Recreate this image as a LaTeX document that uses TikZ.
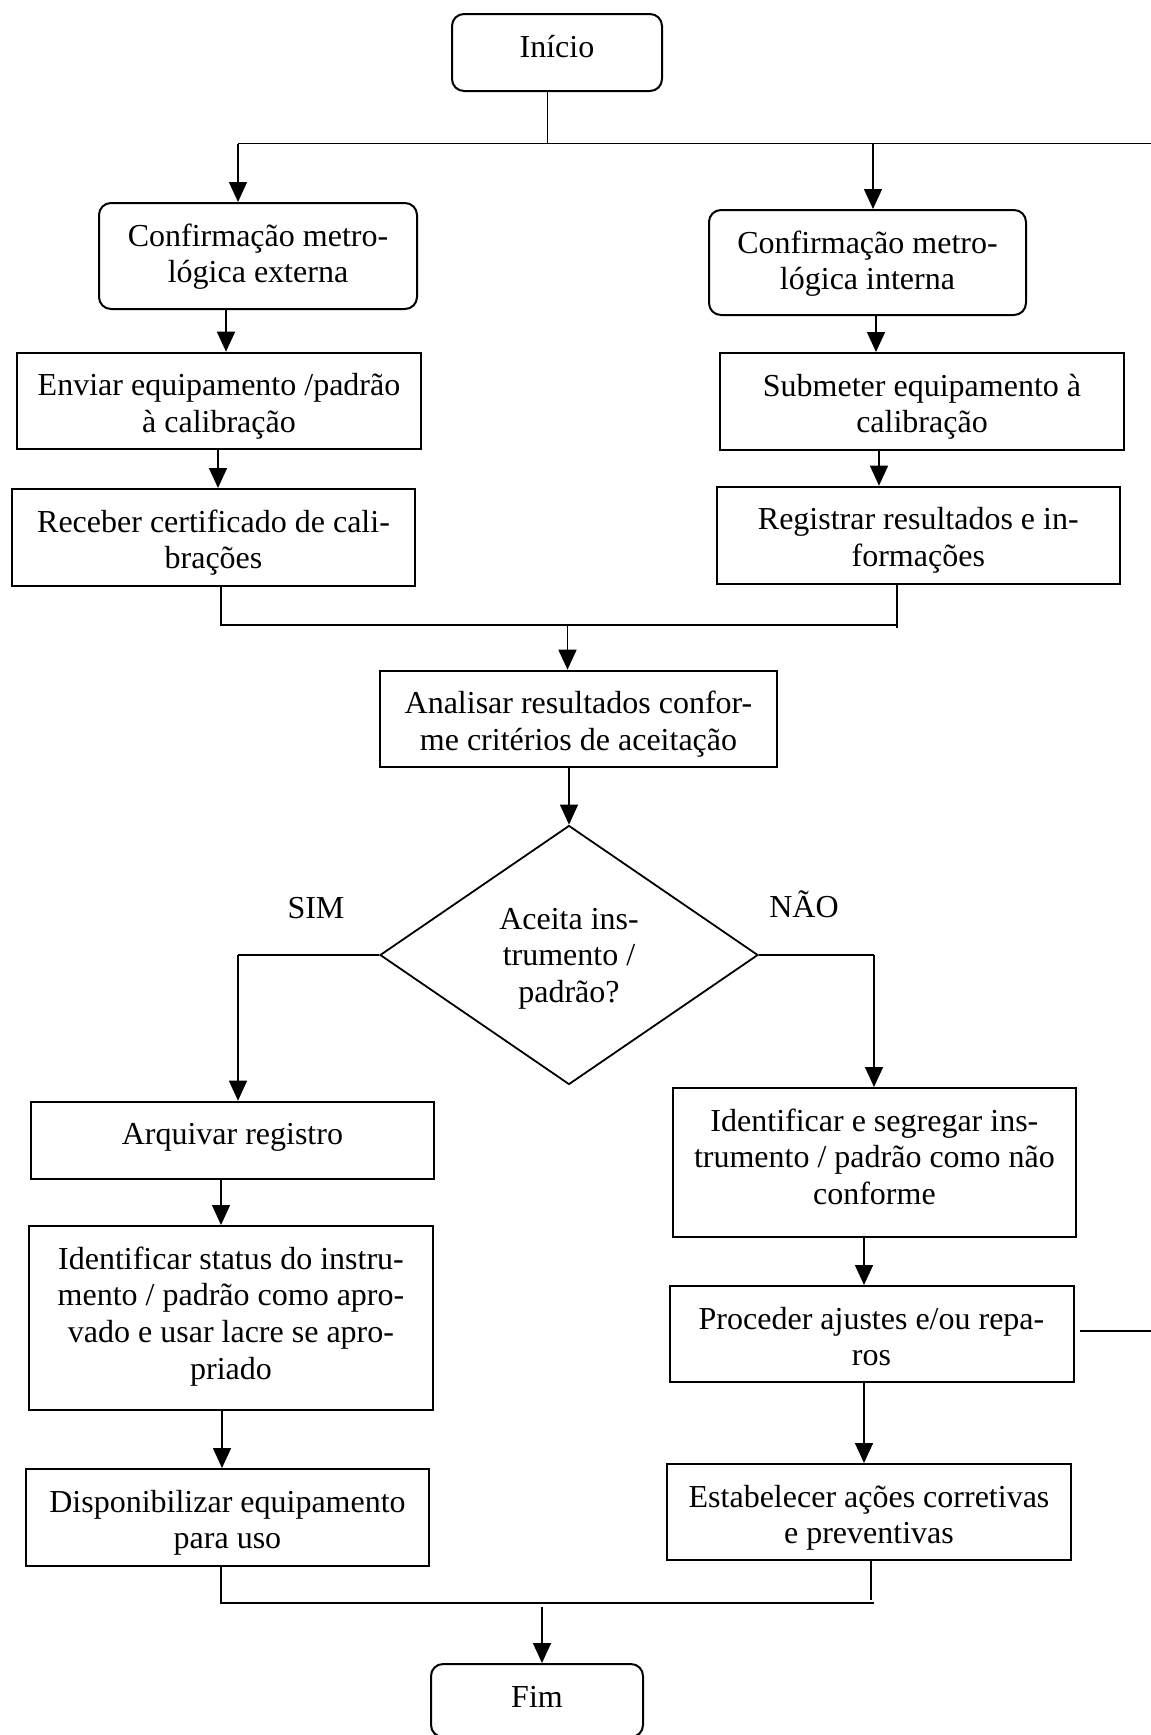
\documentclass[tikz,border=0pt]{standalone}
\usepackage{fontspec}
\setmainfont{Liberation Serif}
\usetikzlibrary{shapes.geometric,arrows.meta}
\newcommand\fsz{\fontsize{16}{18.3}\selectfont}
\newcommand\boxtext[2]{\node[txt, anchor=north] (#1-t) at ([yshift=-6.9pt]#1.north) {\rule{0pt}{15pt}#2};}
\begin{document}
\begin{tikzpicture}[x=0.5pt,y=-0.5pt,
  every node/.style={font=\fsz, align=center, inner sep=0pt},
  txt/.style={},
  proc/.style={draw, line width=1pt},
  term/.style={draw, line width=1pt, rounded corners=6pt},
  conn/.style={line width=0.75pt},
  arr/.style={conn, -{Triangle[length=10pt,width=9pt]}},
  decis/.style={draw, line width=0.9pt, shape=diamond, aspect=1.46}]
\useasboundingbox (0,0) rectangle (1151,1735);
\clip (0,0) rectangle (1151,1735);

% shapes
\node[term, minimum width=105pt, minimum height=38.5pt] (ini) at (557,52.5) {};
\node[term, minimum width=159pt, minimum height=53pt] (ext) at (258,256) {};
\node[term, minimum width=158.5pt, minimum height=52.5pt] (int) at (867.5,262.5) {};
\node[proc, minimum width=202pt, minimum height=48pt] (env) at (219,400.7) {};
\node[proc, minimum width=202pt, minimum height=48.5pt] (sub) at (922,401.5) {};
\node[proc, minimum width=201.5pt, minimum height=48.5pt] (rec) at (213.5,537.5) {};
\node[proc, minimum width=201.7pt, minimum height=48.6pt] (reg) at (918.3,535.3) {};
\node[proc, minimum width=198.5pt, minimum height=48.2pt] (ana) at (578.5,718.9) {};
\node[decis, minimum width=189pt, minimum height=129.5pt] (dia) at (569,955) {};
\node[proc, minimum width=201.7pt, minimum height=38.7pt] (arq) at (232.4,1140.4) {};
\node[proc, minimum width=202pt, minimum height=92pt] (ids) at (231,1318) {};
\node[proc, minimum width=201.5pt, minimum height=48.5pt] (dis) at (227.5,1517.5) {};
\node[proc, minimum width=201.7pt, minimum height=74.4pt] (seg) at (874.4,1162.4) {};
\node[proc, minimum width=202pt, minimum height=48pt] (pro) at (871.5,1334) {};
\node[proc, minimum width=202pt, minimum height=48pt] (est) at (869,1512) {};
\node[term, minimum width=106pt, minimum height=36.5pt] (fim) at (537,1700.5) {};

% texts
\boxtext{ini}{Início}
\boxtext{ext}{Confirmação metro-\\lógica externa}
\boxtext{int}{Confirmação metro-\\lógica interna}
\boxtext{env}{Enviar equipamento /padrão\\à calibração}
\boxtext{sub}{Submeter equipamento à\\calibração}
\boxtext{rec}{Receber certificado de cali-\\brações}
\boxtext{reg}{Registrar resultados e in-\\formações}
\boxtext{ana}{Analisar resultados confor-\\me critérios de aceitação}
\node[txt] (dia-t) at ([yshift=-1.75pt]dia.center) {Aceita ins-\\trumento /\\padrão?};
\node[txt] (sim) at (316,908) {SIM};
\node[txt] (nao) at (804,904) {NÃO};
\boxtext{arq}{Arquivar registro}
\boxtext{ids}{Identificar status do instru-\\mento / padrão como apro-\\vado e usar lacre se apro-\\priado}
\boxtext{dis}{Disponibilizar equipamento\\para uso}
\boxtext{seg}{Identificar e segregar ins-\\trumento / padrão como não\\conforme}
\boxtext{pro}{Proceder ajustes e/ou repa-\\ros}
\boxtext{est}{Estabelecer ações corretivas\\e preventivas}
\boxtext{fim}{Fim}

% helper coordinates
\coordinate (jt) at (547.5,143.5);
\coordinate (tl) at (238,143.5);
\coordinate (tr) at (1160,143.5);
\coordinate (ti) at (873,143.5);
\coordinate (xe1) at (226,0);
\coordinate (xe2) at (218,0);
\coordinate (xi1) at (876,0);
\coordinate (xi2) at (879,0);
\coordinate (m1l) at (221,625);
\coordinate (m1r) at (897,625);
\coordinate (m1a) at (567.5,625);
\coordinate (dl) at (238,955);
\coordinate (dr) at (874,955);
\coordinate (xa1) at (221,0);
\coordinate (xa2) at (222,0);
\coordinate (xs) at (864,0);
\coordinate (pe1) at (1080,1331);
\coordinate (pe2) at (1160,1331);
\coordinate (m2l) at (221,1603);
\coordinate (m2r) at (874,1603);
\coordinate (m2e) at (871,1600);
\coordinate (m2a) at (542,1607);

% connectors
\draw[conn] (ini.south -| jt) -- (jt);
\draw[conn] (tl) -- (tr);
\draw[arr] (tl) -- (tl |- ext.north);
\draw[arr] (ti) -- (ti |- int.north);
\draw[arr] (ext.south -| xe1) -- (env.north -| xe1);
\draw[arr] (env.south -| xe2) -- (rec.north -| xe2);
\draw[arr] (int.south -| xi1) -- (sub.north -| xi1);
\draw[arr] (sub.south -| xi2) -- (reg.north -| xi2);
\draw[conn] (rec.south -| m1l) -- (m1l) -- (m1r);
\draw[conn] (reg.south -| m1r) -- ([yshift=-1.5pt]m1r);
\draw[arr] (m1a) -- (m1a |- ana.north);
\draw[arr] (ana.south -| dia.north) -- (dia.north);
\draw[conn] (dia.west) -- (dl);
\draw[arr] (dl) -- (dl |- arq.north);
\draw[conn] (dia.east) -- (dr);
\draw[arr] (dr) -- (dr |- seg.north);
\draw[arr] (arq.south -| xa1) -- (ids.north -| xa1);
\draw[arr] (ids.south -| xa2) -- (dis.north -| xa2);
\draw[arr] (seg.south -| xs) -- (pro.north -| xs);
\draw[arr] (pro.south -| xs) -- (est.north -| xs);
\draw[conn] (pe1) -- (pe2);
\draw[conn] (dis.south -| m2l) -- (m2l) -- (m2r);
\draw[conn] (est.south -| m2e) -- (m2e);
\draw[arr] (m2a) -- (m2a |- fim.north);
\end{tikzpicture}
\end{document}
